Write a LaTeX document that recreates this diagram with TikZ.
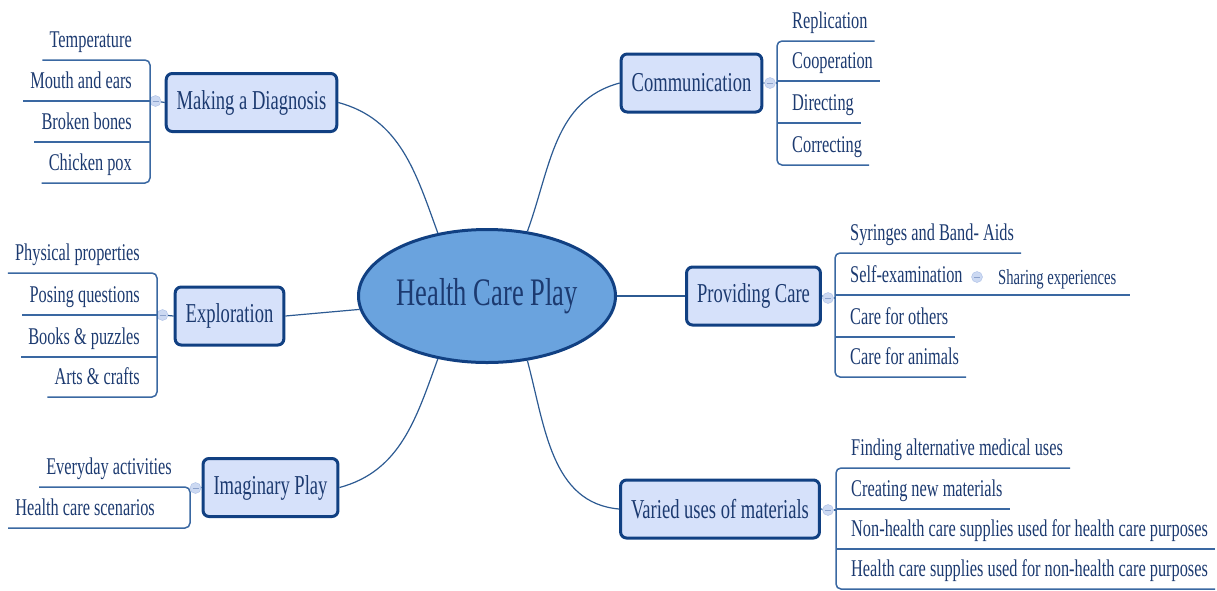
\documentclass[tikz,border=0pt]{standalone}
\usepackage{fontspec}
\setmainfont{Liberation Serif}[FakeStretch=0.68]
\usetikzlibrary{shapes.geometric}

\definecolor{navy}{RGB}{17,64,130}
\definecolor{hubblue}{RGB}{106,163,222}
\definecolor{topicfill}{RGB}{214,225,250}
\definecolor{inkblue}{RGB}{28,58,112}
\definecolor{linkblue}{RGB}{44,90,146}
\definecolor{twigblue}{RGB}{58,104,162}
\definecolor{knobfill}{RGB}{204,217,242}
\definecolor{knobline}{RGB}{170,191,230}
\definecolor{knobdash}{RGB}{140,162,204}

\begin{document}
\begin{tikzpicture}[x=1pt,y=-1pt,
  hub/.style={ellipse, draw=navy, line width=3pt, fill=hubblue, minimum width=257pt, minimum height=133pt, inner sep=0pt, text=inkblue, font=\fontsize{39}{46}\selectfont},
  topic/.style={draw=navy, line width=3pt, rounded corners=6pt, fill=topicfill, minimum height=58pt, inner xsep=10.5pt, text=inkblue, font=\fontsize{27.3}{33}\selectfont},
  leaf/.style={inner xsep=7pt, inner ysep=12pt, text depth=0pt, text=inkblue, font=\fontsize{24}{29}\selectfont},
  knob/.style={circle, draw=knobline, fill=knobfill, minimum size=11pt, inner sep=0pt,
    path picture={\draw[knobdash, line width=0.8pt] ([xshift=-3pt]path picture bounding box.center) -- ([xshift=3pt]path picture bounding box.center);}},
  stem/.style={draw=linkblue, line width=1.2pt},
  twig/.style={draw=twigblue, line width=1.5pt, rounded corners=5pt}]
\useasboundingbox (0,0) rectangle (1217,590);

\node[hub] (hcp) at (487,296) {Health Care Play};

\node[topic] (diag) at (251.5,102.5) {Making a Diagnosis};
\node[topic] (comm) at (691.5,83) {Communication};
\node[topic] (expl) at (229.5,316) {Exploration};
\node[topic] (prov) at (753.5,296) {Providing Care};
\node[topic] (imag) at (270.5,487.5) {Imaginary Play};
\node[topic] (vary) at (720,509) {Varied uses of materials};

\coordinate (dk) at (150,101);
\coordinate (ck) at (777,83);
\coordinate (ek) at (157,315);
\coordinate (pk) at (835,298);
\coordinate (ik) at (190,488);
\coordinate (vk) at (836,510);

\node[knob] (dn) at (155.5,101) {};
\node[knob] (cn) at (770,83) {};
\node[knob] (en) at (162.5,315) {};
\node[knob] (pn) at (828,298) {};
\node[knob] (imn) at (195.5,488) {};
\node[knob] (vn) at (828,510) {};
\node[knob] (sn) at (977,277) {};

\node[leaf, anchor=south east] (d1) at (139,60) {Temperature};
\node[leaf, anchor=south east] (d2) at (139,101) {Mouth and ears};
\node[leaf, anchor=south east] (d3) at (139,142) {Broken bones};
\node[leaf, anchor=south east] (d4) at (139,183) {Chicken pox};

\node[leaf, anchor=south east] (e1) at (147,273) {Physical properties};
\node[leaf, anchor=south east] (e2) at (147,315) {Posing questions};
\node[leaf, anchor=south east] (e3) at (147,357) {Books \& puzzles};
\node[leaf, anchor=south east] (e4) at (147,397) {Arts \& crafts};

\node[leaf, anchor=south east] (i1) at (179,487) {Everyday activities};
\node[leaf, anchor=south east] (i2) at (162,528) {Health care scenarios};

\node[leaf, anchor=south west] (c1) at (785,41) {Replication};
\node[leaf, anchor=south west] (c2) at (785,81) {Cooperation};
\node[leaf, anchor=south west] (c3) at (785,123) {Directing};
\node[leaf, anchor=south west] (c4) at (785,165) {Correcting};

\node[leaf, anchor=south west] (p1) at (843,253) {Syringes and Band- Aids};
\node[leaf, anchor=south west] (p2) at (843,295) {Self-examination};
\node[leaf, anchor=south west] (p3) at (843,337) {Care for others};
\node[leaf, anchor=south west] (p4) at (843,377) {Care for animals};
\node[leaf, anchor=south west, inner xsep=13pt, inner ysep=10pt, font=\fontsize{21.5}{26}\selectfont] (s1) at (985,295) {Sharing experiences};

\node[leaf, anchor=south west] (v1) at (844,468) {Finding alternative medical uses};
\node[leaf, anchor=south west] (v2) at (844,509) {Creating new materials};
\node[leaf, anchor=south west] (v3) at (844,549) {Non-health care supplies used for health care purposes};
\node[leaf, anchor=south west] (v4) at (844,589) {Health care supplies used for non-health care purposes};

\draw[stem] (diag.east) to[out=-15,in=110] (hcp.128);
\draw[stem] (hcp.58) to[out=70,in=195] (comm.west);
\draw[stem] (expl.east) -- (hcp.186);
\draw[stem] (hcp.east) -- (prov.west);
\draw[stem] (imag.east) to[out=15,in=-110] (hcp.232);
\draw[stem] (hcp.302) to[out=-75,in=175] (vary.west);

\draw[stem] (diag.west) -- (dn) (comm.east) -- (cn) (expl.west) -- (en) (prov.east) -- (pn) (imag.west) -- (imn) (vary.east) -- (vn);
\draw[twig] (cn) -- (ck) (pn) -- (pk) (vn) -- (vk);

\draw[twig] (d1.south west) -- (d1.south -| dk) -- (d4.south -| dk) -- (d4.south west);
\draw[twig] (d2.south west) -- (d2.south -| dk) (d3.south west) -- (d3.south -| dk);

\draw[twig] (e1.south west) -- (e1.south -| ek) -- (e4.south -| ek) -- (e4.south west);
\draw[twig] (e2.south west) -- (e2.south -| ek) (e3.south west) -- (e3.south -| ek);

\draw[twig] (i1.south west) -- (i1.south -| ik) -- (i2.south -| ik) -- (i2.south west);

\draw[twig] (c1.south east) -- (c1.south -| ck) -- (c4.south -| ck) -- (c4.south east);
\draw[twig] (c2.south -| ck) -- (c2.south east) (c3.south -| ck) -- (c3.south east);

\draw[twig] (p1.south east) -- (p1.south -| pk) -- (p4.south -| pk) -- (p4.south east);
\draw[twig] (p2.south -| pk) -- (s1.south west) -- (s1.south east) (p3.south -| pk) -- (p3.south east);

\draw[twig] (v1.south east) -- (v1.south -| vk) -- (v4.south -| vk) -- (v4.south east);
\draw[twig] (v2.south -| vk) -- (v2.south east) (v3.south -| vk) -- (v3.south east);
\end{tikzpicture}
\end{document}
